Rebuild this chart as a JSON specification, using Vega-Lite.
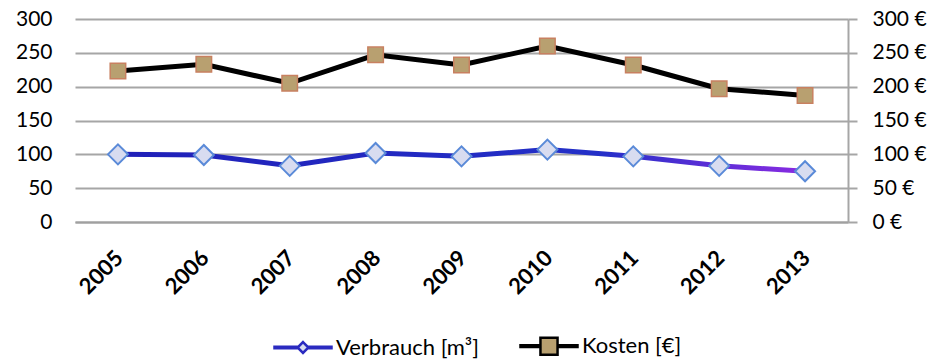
{
  "$schema": "https://vega.github.io/schema/vega-lite/v6.json",
  "width": 773,
  "height": 203,
  "autosize": "none",
  "padding": {"left": 75, "top": 19, "right": 102, "bottom": 139},
  "background": "white",
  "config": {
    "font": "Lato",
    "view": {"stroke": null},
    "axis": {"labelFont": "Lato", "labelColor": "#000000", "labelFontSize": 21, "titleFont": "Lato"},
    "legend": {"labelFont": "Lato"}
  },
  "data": {
    "values": [
      {"year": "2005", "series": "Verbrauch [m³]", "value": 100},
      {"year": "2006", "series": "Verbrauch [m³]", "value": 99},
      {"year": "2007", "series": "Verbrauch [m³]", "value": 83},
      {"year": "2008", "series": "Verbrauch [m³]", "value": 102},
      {"year": "2009", "series": "Verbrauch [m³]", "value": 97},
      {"year": "2010", "series": "Verbrauch [m³]", "value": 107},
      {"year": "2011", "series": "Verbrauch [m³]", "value": 97},
      {"year": "2012", "series": "Verbrauch [m³]", "value": 83},
      {"year": "2013", "series": "Verbrauch [m³]", "value": 75},
      {"year": "2005", "series": "Kosten [€]", "value": 223},
      {"year": "2006", "series": "Kosten [€]", "value": 233},
      {"year": "2007", "series": "Kosten [€]", "value": 205},
      {"year": "2008", "series": "Kosten [€]", "value": 247},
      {"year": "2009", "series": "Kosten [€]", "value": 232},
      {"year": "2010", "series": "Kosten [€]", "value": 260},
      {"year": "2011", "series": "Kosten [€]", "value": 232},
      {"year": "2012", "series": "Kosten [€]", "value": 197},
      {"year": "2013", "series": "Kosten [€]", "value": 187}
    ]
  },
  "encoding": {
    "x": {
      "field": "year",
      "type": "ordinal",
      "scale": {"type": "point", "padding": 0.5},
      "axis": {
        "title": null,
        "labelAngle": -45,
        "labelFontSize": 22,
        "labelFontWeight": "bold",
        "labelOffset": -6,
        "labelPadding": 25,
        "ticks": false,
        "domainColor": "#a0a0a0",
        "domainWidth": 2,
        "grid": false
      }
    }
  },
  "layer": [
    {
      "transform": [{"filter": "datum.series === 'Verbrauch [m³]'"}],
      "mark": {
        "type": "line",
        "strokeWidth": 5,
        "color": {
          "x1": 0, "y1": 0, "x2": 1, "y2": 0,
          "gradient": "linear",
          "stops": [
            {"offset": 0, "color": "#2020b8"},
            {"offset": 0.7, "color": "#2430c8"},
            {"offset": 1, "color": "#8a2be2"}
          ]
        }
      },
      "encoding": {
        "y": {
          "field": "value",
          "type": "quantitative",
          "scale": {"domain": [0, 300], "nice": false},
          "axis": {
            "title": null,
            "values": [0, 50, 100, 150, 200, 250, 300],
            "domain": false,
            "ticks": false,
            "labelPadding": 23,
            "gridColor": "#a6a6a6",
            "gridWidth": 2
          }
        }
      }
    },
    {
      "transform": [{"filter": "datum.series === 'Kosten [€]'"}],
      "mark": {"type": "line", "strokeWidth": 5, "color": "#000000"},
      "encoding": {
        "y": {"field": "value", "type": "quantitative", "scale": {"domain": [0, 300], "nice": false}, "axis": null}
      }
    },
    {
      "transform": [{"filter": "datum.series === 'Verbrauch [m³]'"}],
      "mark": {"type": "point", "shape": "diamond", "size": 400, "filled": true, "fill": "#d8dcf0", "stroke": "#5a8ad8", "strokeWidth": 2, "opacity": 1},
      "encoding": {
        "y": {"field": "value", "type": "quantitative", "scale": {"domain": [0, 300], "nice": false}, "axis": null}
      }
    },
    {
      "transform": [{"filter": "datum.series === 'Kosten [€]'"}],
      "mark": {"type": "point", "shape": "square", "size": 240, "filled": true, "fill": "#b8a070", "stroke": "#c88060", "strokeWidth": 1.5, "opacity": 1},
      "encoding": {
        "y": {
          "field": "value",
          "type": "quantitative",
          "scale": {"domain": [0, 300], "nice": false},
          "axis": {
            "orient": "right",
            "title": null,
            "values": [0, 50, 100, 150, 200, 250, 300],
            "labelExpr": "datum.value + ' €'",
            "grid": false,
            "domainColor": "#a6a6a6",
            "domainWidth": 2,
            "tickColor": "#a6a6a6",
            "tickWidth": 2,
            "tickSize": 9,
            "labelPadding": 15
          }
        }
      }
    },
    {
      "transform": [{"filter": "datum.series === 'none'"}],
      "mark": {"type": "point", "filled": true, "opacity": 1},
      "encoding": {
        "y": {"field": "value", "type": "quantitative", "scale": {"domain": [0, 300], "nice": false}, "axis": null},
        "shape": {
          "field": "series",
          "type": "nominal",
          "scale": {
            "domain": ["Verbrauch [m³]", "Kosten [€]"],
            "range": [
              "M-1,-0.03L-0.19,-0.03L-0.19,0.03L-1,0.03Z M0.19,-0.03L1,-0.03L1,0.03L0.19,0.03Z M0,-0.19L0.19,0L0,0.19L-0.19,0Z",
              "M-1,-0.03L-0.3,-0.03L-0.3,0.03L-1,0.03Z M0.3,-0.03L1,-0.03L1,0.03L0.3,0.03Z M-0.3,-0.3L0.3,-0.3L0.3,0.3L-0.3,0.3Z"
            ]
          },
          "legend": {
            "title": null,
            "orient": "none",
            "direction": "horizontal",
            "legendX": 198,
            "legendY": 297,
            "symbolSize": 3249,
            "symbolStrokeWidth": 2.5,
            "labelFontSize": 22,
            "labelColor": "#000000",
            "labelOffset": 3,
            "columnPadding": 36,
            "symbolOpacity": 1
          }
        },
        "stroke": {
          "field": "series",
          "type": "nominal",
          "scale": {"domain": ["Verbrauch [m³]", "Kosten [€]"], "range": ["#2a2ac0", "#000000"]}
        },
        "fill": {
          "field": "series",
          "type": "nominal",
          "scale": {"domain": ["Verbrauch [m³]", "Kosten [€]"], "range": ["#d8dcf0", "#b8a070"]}
        }
      }
    }
  ],
  "resolve": {"scale": {"y": "independent"}}
}
